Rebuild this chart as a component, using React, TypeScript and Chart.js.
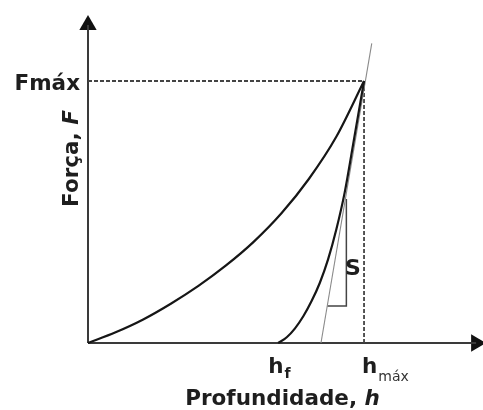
import React, { useEffect, useRef } from "react";
import { Chart, registerables } from "chart.js";

Chart.register(...registerables);

// Loading curve (profundidade h, força F) – arbitrary units, hmax = 100, Fmax = 100
const hLoading = [0, 10, 20, 30, 40, 50, 60, 70, 80, 90, 100];
const fLoading = [0, 4.1, 9.0, 15.0, 21.8, 29.6, 38.6, 49.4, 62.6, 78.8, 100];

// Unloading curve
const hUnloading = [68.9, 72, 75, 78, 81, 84, 87, 90, 93, 96, 100];
const fUnloading = [0, 2.2, 5.6, 10.2, 16.0, 23.0, 32.0, 43.5, 57.5, 75.5, 100];

// Tangent (stiffness S) line
const hTangent = [84.4, 102.8];
const fTangent = [0, 114.4];

// Slope triangle
const hTriangle = [86.7, 93.6, 93.6];
const fTriangle = [14.1, 14.1, 55];

// Reference values
const hf = 68.9;
const hmax = 100;
const Fmax = 100;

// Axes extents
const hAxisEnd = 140.6;
const fAxisEnd = 121.4;
const hView = 143.1;
const fView = 125.2;

const zip = (xs: number[], ys: number[]) => xs.map((x, i) => ({ x, y: ys[i] }));

const FONT = '"DejaVu Sans", "Liberation Sans", Arial, sans-serif';

function drawParts(
  ctx: CanvasRenderingContext2D,
  parts: { t: string; f: string }[],
  cx: number,
  y: number
) {
  let total = 0;
  for (const p of parts) {
    ctx.font = p.f;
    total += ctx.measureText(p.t).width;
  }
  let x = cx - total / 2;
  ctx.textAlign = "left";
  for (const p of parts) {
    ctx.font = p.f;
    ctx.fillText(p.t, x, y);
    x += ctx.measureText(p.t).width;
  }
}

const labelPlugin = {
  id: "labels",
  afterDatasetsDraw(chart: any) {
    const ctx: CanvasRenderingContext2D = chart.ctx;
    const xs = chart.scales.x;
    const ys = chart.scales.y;
    const x0 = xs.getPixelForValue(0);
    const y0 = ys.getPixelForValue(0);
    const bold = `bold 21.5px ${FONT}`;
    const boldIt = `bold oblique 21.5px ${FONT}`;
    ctx.save();
    ctx.fillStyle = "#1e1e1e";
    ctx.textBaseline = "alphabetic";

    // Fmáx
    ctx.font = bold;
    ctx.textAlign = "right";
    ctx.fillText("Fmáx", x0 - 8, ys.getPixelForValue(Fmax) + 8.5);

    // Y title rotated
    ctx.save();
    ctx.translate(x0 - 10, 158.5);
    ctx.rotate(-Math.PI / 2);
    drawParts(ctx, [{ t: "Força, ", f: bold }, { t: "F", f: boldIt }], 0, 0);
    ctx.restore();

    // X title
    drawParts(ctx, [{ t: "Profundidade, ", f: bold }, { t: "h", f: boldIt }], x0 + 194.5, y0 + 62);

    // hf
    ctx.textAlign = "left";
    ctx.font = bold;
    const pf = xs.getPixelForValue(hf);
    ctx.fillText("h", pf - 10, y0 + 30);
    const wh = ctx.measureText("h").width;
    ctx.font = `bold 14px ${FONT}`;
    ctx.fillText("f", pf - 10 + wh + 1, y0 + 35);

    // hmax
    ctx.font = bold;
    const pm = xs.getPixelForValue(hmax);
    ctx.fillText("h", pm - 2, y0 + 30);
    ctx.font = `14px ${FONT}`;
    ctx.fillStyle = "#333";
    ctx.fillText("máx", pm - 1 + wh, y0 + 38);

    // S
    ctx.fillStyle = "#1e1e1e";
    ctx.font = `bold 22px ${FONT}`;
    ctx.textAlign = "center";
    ctx.fillText("S", xs.getPixelForValue(hTriangle[1]) + 6.5, ys.getPixelForValue(26));

    ctx.restore();
  },
};

export default function App() {
  const ref = useRef<HTMLCanvasElement | null>(null);

  useEffect(() => {
    if (!ref.current) return;
    document.body.style.margin = "0";
    const line = (data: { x: number; y: number }[], color: string, width: number, extra: any = {}) => ({
      data,
      showLine: true,
      borderColor: color,
      backgroundColor: color,
      borderWidth: width,
      pointRadius: 0,
      fill: false,
      clip: false,
      ...extra,
    });
    const chart = new Chart(ref.current, {
      type: "scatter",
      data: {
        datasets: [
          line(zip(hLoading, fLoading), "#161616", 2.2, { cubicInterpolationMode: "monotone" }),
          line(zip(hUnloading, fUnloading), "#161616", 2.2, { cubicInterpolationMode: "monotone" }),
          line(zip(hTangent, fTangent), "#8a8a8a", 1.1),
          line(zip(hTriangle, fTriangle), "#444", 1.5),
          line(zip([0, hmax], [Fmax, Fmax]), "#444", 1.8, { borderDash: [4, 2] }),
          line(zip([hmax, hmax], [Fmax, 0]), "#444", 1.8, { borderDash: [4, 2] }),
          line(zip([0, hAxisEnd], [0, 0]), "#3a3a3a", 2),
          line(zip([0, 0], [0, fAxisEnd]), "#3a3a3a", 2),
          {
            data: zip([hAxisEnd], [0]),
            pointStyle: "triangle",
            pointRadius: 10,
            pointRotation: 90,
            pointBorderWidth: 0,
            backgroundColor: "#111",
            borderColor: "#111",
            clip: false,
          },
          {
            data: zip([0], [fAxisEnd]),
            pointStyle: "triangle",
            pointRadius: 10,
            pointRotation: 0,
            pointBorderWidth: 0,
            backgroundColor: "#111",
            borderColor: "#111",
            clip: false,
          },
        ],
      },
      options: {
        animation: false,
        responsive: false,
        events: [],
        layout: { autoPadding: false, padding: { left: 88, right: 0, top: 15, bottom: 67 } },
        plugins: { legend: { display: false }, tooltip: { enabled: false } },
        scales: {
          x: { type: "linear", min: 0, max: hView, display: false },
          y: { type: "linear", min: 0, max: fView, display: false },
        },
      },
      plugins: [labelPlugin],
    });
    return () => chart.destroy();
  }, []);

  return (
    <div style={{ position: "fixed", left: 0, top: 0, width: 483, height: 410, background: "#fff" }}>
      <canvas ref={ref} width={483} height={410} style={{ display: "block" }} />
    </div>
  );
}
